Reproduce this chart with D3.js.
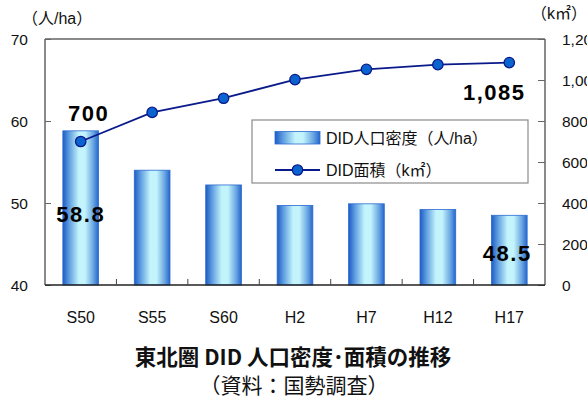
<!DOCTYPE html>
<html>
<head>
<meta charset="utf-8">
<script src="https://cdn.jsdelivr.net/npm/d3@7"></script>
<style>
  html, body { margin: 0; padding: 0; background: #fff; }
  svg { display: block; font-family: "Liberation Sans", Arial, "Noto Sans CJK JP", sans-serif; }
</style>
</head>
<body>
<svg id="chart" width="587" height="403"></svg>
<script>
// Tohoku DID population density (persons/ha) and DID area (km²)
const categories = ["S50", "S55", "S60", "H2", "H7", "H12", "H17"];
const density = [58.8, 54.0, 52.2, 49.7, 49.9, 49.2, 48.5];
const area = [700, 842, 911, 1002, 1052, 1075, 1085];
const leftTicks = [40, 50, 60, 70];
const rightTicks = [0, 200, 400, 600, 800, 1000, 1200];

const svg = d3.select("#chart");
const plot = { left: 45, right: 545, top: 39, bottom: 285 };

const x = d3.scaleBand().domain(categories)
  .range([plot.left, plot.right]).paddingInner(0.5).paddingOuter(0.25);
const step = x.step();
const yL = d3.scaleLinear().domain([40, 70]).range([plot.bottom, plot.top]);
const yR = d3.scaleLinear().domain([0, 1200]).range([plot.bottom, plot.top]);

// bar gradient: blue edges, pale cyan middle
const defs = svg.append("defs");
const grad = defs.append("linearGradient").attr("id", "barGrad")
  .attr("x1", "0%").attr("x2", "100%").attr("y1", "0%").attr("y2", "0%");
[["0%", "#1c5cc6"], ["18%", "#5f9ee0"], ["45%", "#c3f4fc"], ["62%", "#c3f4fc"], ["85%", "#6aa6e2"], ["100%", "#2366cc"]]
  .forEach(([o, c]) => grad.append("stop").attr("offset", o).attr("stop-color", c));

// bars
svg.append("g").selectAll("rect").data(categories).join("rect")
  .attr("x", d => x(d))
  .attr("y", (d, i) => yL(density[i]))
  .attr("width", x.bandwidth())
  .attr("height", (d, i) => yL(40) - yL(density[i]))
  .attr("fill", "url(#barGrad)")
  .attr("stroke", "#2b6ad0").attr("stroke-width", 0.8);

// frame: grey top/left/right, dark bottom
svg.append("line").attr("x1", plot.left).attr("x2", plot.right).attr("y1", plot.top).attr("y2", plot.top)
  .attr("stroke", "#8a8a8a").attr("stroke-width", 2);
svg.append("line").attr("x1", plot.left).attr("x2", plot.left).attr("y1", plot.top).attr("y2", plot.bottom)
  .attr("stroke", "#8a8a8a").attr("stroke-width", 2);
svg.append("line").attr("x1", plot.right).attr("x2", plot.right).attr("y1", plot.top).attr("y2", plot.bottom)
  .attr("stroke", "#8a8a8a").attr("stroke-width", 2);

// left axis: inward ticks, labels on the outside
const axL = svg.append("g").attr("transform", `translate(${plot.left},0)`)
  .call(d3.axisRight(yL).tickValues(leftTicks).tickSize(6).tickFormat(""));
axL.select(".domain").remove();
axL.selectAll("line").attr("stroke", "#666");
svg.append("g").selectAll("text").data(leftTicks).join("text")
  .attr("x", 28).attr("y", d => yL(d) + 5.5)
  .attr("text-anchor", "end").attr("font-size", 15.5).attr("fill", "#111")
  .text(d => d);

// right axis: inward ticks, labels on the outside (wide ones run past the edge)
const axR = svg.append("g").attr("transform", `translate(${plot.right},0)`)
  .call(d3.axisLeft(yR).tickValues(rightTicks).tickSize(7).tickFormat(""));
axR.select(".domain").remove();
axR.selectAll("line").attr("stroke", "#666");
svg.append("g").selectAll("text").data(rightTicks).join("text")
  .attr("x", 562).attr("y", d => yR(d) + 5.5)
  .attr("text-anchor", "start").attr("font-size", 15.5).attr("fill", "#111")
  .text(d => d3.format(",")(d));

// bottom axis: ticks between categories, pointing up
const axB = svg.append("g").attr("transform", `translate(0,${plot.bottom})`);
axB.append("line").attr("x1", plot.left).attr("x2", plot.right).attr("y1", 0).attr("y2", 0)
  .attr("stroke", "#222").attr("stroke-width", 1.5);
axB.selectAll("line.sep").data(categories.slice(1)).join("line").attr("class", "sep")
  .attr("x1", d => x(d) - (step - x.bandwidth()) / 2).attr("x2", d => x(d) - (step - x.bandwidth()) / 2)
  .attr("y1", 0).attr("y2", -6).attr("stroke", "#444");
axB.selectAll("text").data(categories).join("text")
  .attr("x", d => x(d) + x.bandwidth() / 2).attr("y", 38)
  .attr("text-anchor", "middle").attr("font-size", 16).attr("fill", "#111")
  .text(d => d);

// area line with markers
const line = d3.line().x((d, i) => x(categories[i]) + x.bandwidth() / 2).y(d => yR(d));
svg.append("path").datum(area).attr("d", line)
  .attr("fill", "none").attr("stroke", "#0a1a8a").attr("stroke-width", 1.8);
svg.append("g").selectAll("circle").data(area).join("circle")
  .attr("cx", (d, i) => x(categories[i]) + x.bandwidth() / 2)
  .attr("cy", d => yR(d)).attr("r", 5.2)
  .attr("fill", "#0b63cf").attr("stroke", "#0a1a8a").attr("stroke-width", 1.3);

// value labels for first and last points/bars
const cx = i => x(categories[i]) + x.bandwidth() / 2;
const last = categories.length - 1;
const valueLabels = [
  { text: d3.format(",")(area[0]), x: cx(0) + 8, y: yR(area[0]) - 21 },
  { text: d3.format(",")(area[last]), x: cx(last) - 15, y: yR(area[last]) + 37 },
  { text: d3.format(".1f")(density[0]), x: cx(0), y: yL(density[0]) + 91 },
  { text: d3.format(".1f")(density[last]), x: cx(last) - 2, y: yL(density[last]) + 46 }
];
svg.append("g").selectAll("text").data(valueLabels).join("text")
  .attr("x", d => d.x).attr("y", d => d.y)
  .attr("text-anchor", "middle").attr("font-size", 22).attr("font-weight", "bold")
  .attr("letter-spacing", 1.5).attr("fill", "#000")
  .text(d => d.text);

// legend
const lg = svg.append("g");
lg.append("rect").attr("x", 252).attr("y", 120).attr("width", 276).attr("height", 63)
  .attr("fill", "#fff").attr("stroke", "#8a8a8a").attr("stroke-width", 1.2);
lg.append("rect").attr("x", 275).attr("y", 131.5).attr("width", 45).attr("height", 12.5)
  .attr("fill", "url(#barGrad)").attr("stroke", "#2b6ad0").attr("stroke-width", 0.8);
lg.append("text").attr("x", 326).attr("y", 144).attr("font-size", 16).attr("fill", "#111")
  .text("DID人口密度（人/ha）");
lg.append("line").attr("x1", 275).attr("x2", 320).attr("y1", 170).attr("y2", 170)
  .attr("stroke", "#0a1a8a").attr("stroke-width", 1.8);
lg.append("circle").attr("cx", 297.5).attr("cy", 170).attr("r", 5.2)
  .attr("fill", "#0b63cf").attr("stroke", "#0a1a8a").attr("stroke-width", 1.3);
lg.append("text").attr("x", 326).attr("y", 176).attr("font-size", 16).attr("fill", "#111")
  .text("DID面積（k㎡）");

// unit captions
svg.append("text").attr("x", 22).attr("y", 24).attr("font-size", 16).attr("fill", "#111")
  .text("（人/ha）");
svg.append("text").attr("x", 531).attr("y", 19).attr("font-size", 16).attr("fill", "#111")
  .text("（k㎡）");

// titles
svg.append("text").attr("x", 293).attr("y", 365).attr("text-anchor", "middle")
  .attr("font-family", "'Noto Sans CJK JP', sans-serif")
  .attr("font-size", 21.5).attr("font-weight", "bold").attr("fill", "#111")
  .text("東北圏 DID 人口密度･面積の推移");
svg.append("text").attr("x", 294).attr("y", 393).attr("text-anchor", "middle")
  .attr("font-family", "'Noto Sans CJK JP', sans-serif")
  .attr("font-size", 21).attr("fill", "#111")
  .text("（資料：国勢調査）");
</script>
</body>
</html>
